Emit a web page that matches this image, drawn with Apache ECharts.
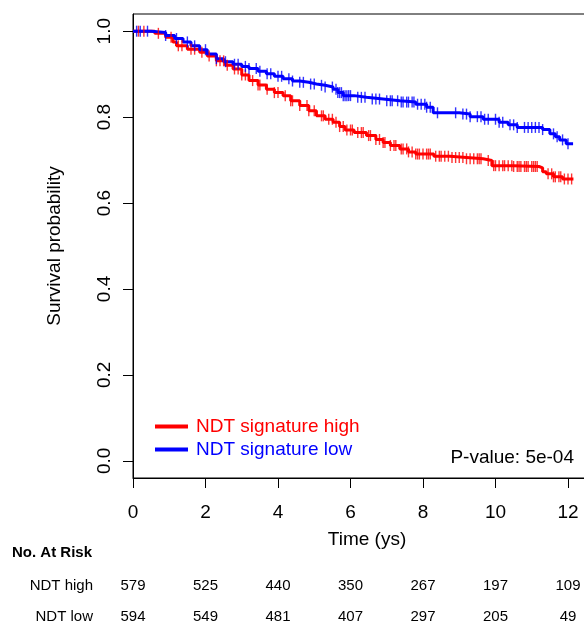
<!DOCTYPE html>
<html>
<head>
<meta charset="utf-8">
<script src="https://cdn.jsdelivr.net/npm/echarts@6/dist/echarts.min.js"></script>
<style>
  html, body { margin: 0; padding: 0; background: #fff; }
  #chart { width: 584px; height: 623px; }
</style>
</head>
<body>
<div id="chart"></div>
<script>
// Kaplan-Meier steps: [time in years, survival probability]
const highSteps = [
  [0, 1.0], [0.6, 0.995], [0.9, 0.986], [1.1, 0.975], [1.2, 0.966], [1.5, 0.958],
  [1.84, 0.951], [2.05, 0.942], [2.3, 0.931], [2.55, 0.921], [2.76, 0.912], [3.0, 0.898],
  [3.2, 0.885], [3.45, 0.875], [3.68, 0.865], [3.9, 0.857], [4.14, 0.850], [4.35, 0.838],
  [4.6, 0.827], [4.85, 0.815], [5.06, 0.803], [5.3, 0.795], [5.52, 0.788], [5.7, 0.778],
  [5.85, 0.770], [6.1, 0.764], [6.44, 0.757], [6.7, 0.748], [6.9, 0.741], [7.1, 0.734],
  [7.36, 0.726], [7.6, 0.719], [7.8, 0.714], [8.3, 0.709], [8.74, 0.706], [9.2, 0.703],
  [9.66, 0.699], [9.9, 0.687], [10.5, 0.685], [11.2, 0.682], [11.3, 0.673], [11.4, 0.668],
  [11.6, 0.661], [11.85, 0.656], [12.15, 0.656]
];
const lowSteps = [
  [0, 1.0], [0.5, 0.997], [0.9, 0.990], [1.15, 0.983], [1.38, 0.975], [1.6, 0.966],
  [1.84, 0.957], [2.05, 0.947], [2.3, 0.936], [2.5, 0.929], [2.76, 0.923], [3.0, 0.918],
  [3.2, 0.913], [3.45, 0.907], [3.68, 0.901], [3.9, 0.895], [4.14, 0.889], [4.4, 0.884],
  [4.6, 0.881], [4.85, 0.877], [5.06, 0.874], [5.3, 0.870], [5.52, 0.865], [5.65, 0.857],
  [5.8, 0.850], [6.1, 0.846], [6.44, 0.842], [6.9, 0.838], [7.36, 0.835], [7.8, 0.830],
  [8.1, 0.823], [8.28, 0.810], [9.0, 0.807], [9.3, 0.801], [9.66, 0.795], [10.1, 0.788],
  [10.35, 0.782], [10.6, 0.776], [11.3, 0.771], [11.5, 0.761], [11.65, 0.754],
  [11.77, 0.747], [11.95, 0.738], [12.14, 0.738]
];

// Censoring times (years)
const highCensored = [
  0.15, 0.3, 0.7, 1.05, 1.25, 1.35, 1.6, 1.7, 1.9, 2.1, 2.3, 2.4, 2.5, 2.6, 2.8, 2.9,
  3.0, 3.1, 3.3, 3.45, 3.5, 3.7, 3.9, 4.0, 4.2, 4.35, 4.4, 4.6, 4.8, 4.85, 5.0, 5.2,
  5.25, 5.4, 5.5, 5.6, 5.7, 5.8, 5.9, 6.0, 6.05, 6.2, 6.3, 6.35, 6.5, 6.55, 6.7, 6.8,
  6.9, 6.95, 7.1, 7.2, 7.25, 7.4, 7.45, 7.55, 7.6, 7.7, 7.8, 7.85, 7.9, 8.0, 8.1, 8.15,
  8.2, 8.35, 8.45, 8.5, 8.6, 8.7, 8.8, 8.9, 9.0, 9.1, 9.2, 9.3, 9.4, 9.5, 9.55, 9.6,
  9.8, 9.95, 10.0, 10.1, 10.2, 10.25, 10.35, 10.45, 10.5, 10.6, 10.65, 10.7, 10.8,
  10.85, 10.9, 11.0, 11.05, 11.1, 11.15, 11.45, 11.55, 11.6, 11.65, 11.75, 11.8, 11.9,
  12.0, 12.1
];
const lowCensored = [
  0.1, 0.2, 0.4, 0.9, 1.2, 1.5, 1.7, 2.0, 2.3, 2.55, 2.8, 2.9, 3.1, 3.2, 3.4, 3.5, 3.7,
  3.8, 4.0, 4.1, 4.3, 4.4, 4.6, 4.7, 4.9, 5.0, 5.2, 5.3, 5.5, 5.6, 5.65, 5.7, 5.75, 5.8,
  5.85, 5.9, 5.95, 6.0, 6.2, 6.3, 6.4, 6.6, 6.7, 6.8, 7.0, 7.1, 7.15, 7.3, 7.4, 7.45,
  7.55, 7.6, 7.7, 7.75, 7.85, 7.95, 8.05, 8.1, 8.2, 8.4, 8.9, 9.1, 9.2, 9.3, 9.5, 9.6,
  9.7, 9.8, 10.0, 10.1, 10.2, 10.4, 10.5, 10.6, 10.8, 10.9, 11.0, 11.1, 11.2, 11.3,
  11.6, 11.7, 11.85, 12.0
];

// Numbers at risk table
const riskTimes = [0, 2, 4, 6, 8, 10, 12];
const riskHigh = [579, 525, 440, 350, 267, 197, 109];
const riskLow = [594, 549, 481, 407, 297, 205, 49];

const xTicks = [0, 2, 4, 6, 8, 10, 12];
const yTicks = [0, 0.2, 0.4, 0.6, 0.8, 1.0];
const pValueText = 'P-value: 5e-04';

const FONT = '"Liberation Sans", Arial, Helvetica, sans-serif';
const RED = '#ff0000';
const BLUE = '#0000ff';

// survival value of a step curve at time t
function survAt(steps, t) {
  let s = steps[0][1];
  for (const [tt, v] of steps) {
    if (tt <= t) s = v; else break;
  }
  return s;
}

const chart = echarts.init(document.getElementById('chart'), null, { renderer: 'canvas' });

const option = {
  animation: false,
  backgroundColor: '#ffffff',
  textStyle: { fontFamily: FONT },
  grid: {
    left: 133, top: 14, width: 468, height: 464,
    outerBoundsMode: 'none',
    containLabel: false,
    show: true, borderColor: '#000', borderWidth: 1, backgroundColor: 'transparent'
  },
  legend: {
    orient: 'vertical',
    left: 150, top: 412,
    icon: 'rect',
    itemWidth: 33, itemHeight: 4,
    itemGap: 4,
    selectedMode: false,
    textStyle: { fontSize: 19, fontFamily: FONT, padding: [0, 0, 0, 3] },
    data: [
      { name: 'NDT signature high', textStyle: { color: RED } },
      { name: 'NDT signature low', textStyle: { color: BLUE } }
    ]
  },
  xAxis: {
    type: 'value',
    min: 0, max: 468 / 36.25,
    name: 'Time (ys)',
    nameLocation: 'middle',
    nameGap: 52,
    nameTextStyle: { fontSize: 19, color: '#000', fontFamily: FONT },
    axisLine: { show: true, onZero: false, lineStyle: { color: '#000', width: 1 } },
    axisTick: { show: true, length: 10, inside: false, customValues: xTicks, lineStyle: { color: '#000' } },
    axisLabel: { customValues: xTicks, fontSize: 19, color: '#000', margin: 25, fontFamily: FONT },
    splitLine: { show: false }
  },
  yAxis: {
    type: 'value',
    min: -0.04, max: 1.04,
    name: 'Survival probability',
    nameLocation: 'middle',
    nameGap: 69,
    nameTextStyle: { fontSize: 19, color: '#000', fontFamily: FONT },
    axisLine: { show: true, onZero: false, lineStyle: { color: '#000', width: 1 } },
    axisTick: { show: true, length: 10, inside: false, customValues: yTicks, lineStyle: { color: '#000' } },
    axisLabel: {
      customValues: yTicks, fontSize: 19, color: '#000', rotate: 90, margin: 19,
      fontFamily: FONT,
      formatter: v => v.toFixed(1)
    },
    splitLine: { show: false }
  },
  series: [
    {
      name: 'NDT signature high', type: 'line', step: 'end',
      data: highSteps, showSymbol: false, symbol: 'none',
      lineStyle: { color: RED, width: 3 }, itemStyle: { color: RED }, z: 3
    },
    {
      name: 'NDT signature low', type: 'line', step: 'end',
      data: lowSteps, showSymbol: false, symbol: 'none',
      lineStyle: { color: BLUE, width: 3 }, itemStyle: { color: BLUE }, z: 3
    },
    {
      name: 'high censored', type: 'scatter',
      data: highCensored.map(t => [t, survAt(highSteps, t)]),
      symbol: 'rect', symbolSize: [1.4, 11],
      itemStyle: { color: RED, opacity: 0.8 }, z: 4
    },
    {
      name: 'low censored', type: 'scatter',
      data: lowCensored.map(t => [t, survAt(lowSteps, t)]),
      symbol: 'rect', symbolSize: [1.4, 11],
      itemStyle: { color: BLUE, opacity: 0.8 }, z: 4
    }
  ]
};

chart.setOption(option);

// text annotations: p-value and numbers-at-risk table
const graphics = [
  {
    type: 'text', x: 574, y: 458, z: 10,
    style: { text: pValueText, font: '19px ' + FONT, fill: '#000', align: 'right', verticalAlign: 'middle' }
  },
  {
    type: 'text', x: 12, y: 553, z: 10,
    style: { text: 'No. At Risk', font: 'bold 15px ' + FONT, fill: '#000', align: 'left', verticalAlign: 'middle' }
  },
  {
    type: 'text', x: 93, y: 586, z: 10,
    style: { text: 'NDT high', font: '15px ' + FONT, fill: '#000', align: 'right', verticalAlign: 'middle' }
  },
  {
    type: 'text', x: 93, y: 617, z: 10,
    style: { text: 'NDT low', font: '15px ' + FONT, fill: '#000', align: 'right', verticalAlign: 'middle' }
  }
];
riskTimes.forEach((t, i) => {
  const px = chart.convertToPixel({ xAxisIndex: 0 }, t);
  graphics.push({
    type: 'text', x: px, y: 586, z: 10,
    style: { text: String(riskHigh[i]), font: '15px ' + FONT, fill: '#000', align: 'center', verticalAlign: 'middle' }
  });
  graphics.push({
    type: 'text', x: px, y: 617, z: 10,
    style: { text: String(riskLow[i]), font: '15px ' + FONT, fill: '#000', align: 'center', verticalAlign: 'middle' }
  });
});
chart.setOption({ graphic: graphics });
</script>
</body>
</html>
